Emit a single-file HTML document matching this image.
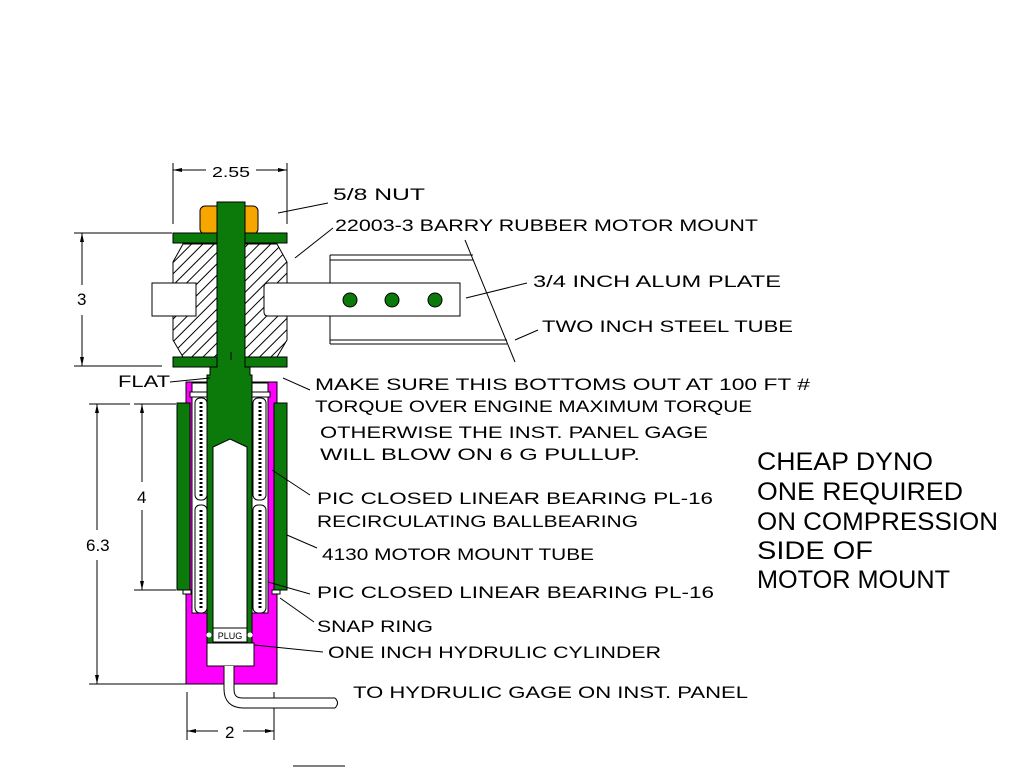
<!DOCTYPE html>
<html><head><meta charset="utf-8"><style>
html,body{margin:0;padding:0;background:#fff;}
svg{display:block}
text{font-family:"Liberation Sans",sans-serif;fill:#000;}
</style></head><body>
<svg width="1024" height="768" viewBox="0 0 1024 768" xmlns="http://www.w3.org/2000/svg">
<defs>
<pattern id="h" width="8" height="8" patternUnits="userSpaceOnUse" patternTransform="rotate(-45)">
<rect width="8" height="8" fill="#fff"/><line x1="0" y1="4" x2="8" y2="4" stroke="#000" stroke-width="1"/>
</pattern>
</defs>
<g stroke="#000" stroke-width="1" fill="none">
<line x1="173" y1="163" x2="173" y2="224"/><line x1="287" y1="163" x2="287" y2="224"/>
<line x1="173" y1="170" x2="206" y2="170"/><line x1="256" y1="170" x2="287" y2="170"/>
<line x1="74" y1="233" x2="172" y2="233"/><line x1="74" y1="366" x2="162" y2="366"/>
<line x1="82" y1="233" x2="82" y2="285"/><line x1="82" y1="315" x2="82" y2="366"/>
<line x1="89" y1="404" x2="130" y2="404"/><line x1="134" y1="404" x2="176" y2="404"/>
<line x1="97" y1="404" x2="97" y2="530"/><line x1="97" y1="560" x2="97" y2="684"/>
<line x1="89" y1="684" x2="188" y2="684"/>
<line x1="142" y1="404" x2="142" y2="482"/><line x1="142" y1="510" x2="142" y2="590"/>
<line x1="134" y1="590" x2="176" y2="590"/>
<line x1="187" y1="692" x2="187" y2="740"/><line x1="274" y1="692" x2="274" y2="740"/>
<line x1="187" y1="731" x2="218" y2="731"/><line x1="243" y1="731" x2="274" y2="731"/>
</g>
<g fill="#000">
<path d="M173 170 l9 -2 v4z M287 170 l-9 -2 v4z M82 233 l-2 9 h4z M82 366 l-2 -9 h4z M97 404 l-2 9 h4z M97 684 l-2 -9 h4z M142 404 l-2 9 h4z M142 590 l-2 -9 h4z M187 731 l9 -2 v4z M274 731 l-9 -2 v4z"/>
</g>
<rect x="200" y="206" width="58" height="28" rx="5" fill="#f7a600" stroke="#000"/>
<path d="M183 244 H277 L287 262 V340 L277 357 H183 L173 340 V262Z" fill="url(#h)" stroke="#000"/>
<path d="M152 283 H196 V316 H152Z" fill="#fff" stroke="#000"/>
<path d="M330 255 H473 M330 260 H473 M330 340 H507 M330 344 H507 M330 255 V283 M330 316 V344" stroke="#000" fill="none"/>
<path d="M268 283 H460 V316 H268 Q264 316 264 312 V287 Q264 283 268 283Z" fill="#fff" stroke="#000"/>
<circle cx="350" cy="300" r="7" fill="#0b7a0b" stroke="#000"/>
<circle cx="392" cy="300" r="7" fill="#0b7a0b" stroke="#000"/>
<circle cx="435" cy="300" r="7" fill="#0b7a0b" stroke="#000"/>
<rect x="173" y="233" width="114" height="10" fill="#0b7a0b" stroke="#000"/>
<rect x="173" y="357" width="114" height="10" fill="#0b7a0b" stroke="#000"/>
<rect x="186" y="382" width="91" height="302" fill="#ff00ff" stroke="#000"/>
<rect x="192" y="383" width="76" height="230" fill="#fff" stroke="#000"/>
<rect x="207" y="643" width="47" height="23" fill="#fff" stroke="#000"/>
<rect x="177" y="403" width="13" height="187" fill="#0b7a0b" stroke="#000"/>
<rect x="274" y="403" width="13" height="187" fill="#0b7a0b" stroke="#000"/>
<rect x="183" y="590" width="8" height="4" fill="#fff" stroke="#000"/>
<rect x="272" y="590" width="8" height="4" fill="#fff" stroke="#000"/>
<rect x="190" y="392" width="80" height="5" fill="#fff" stroke="#000"/>
<g fill="#fff" stroke="#000">
<rect x="195" y="398" width="12" height="102" rx="5"/><rect x="195" y="505" width="12" height="108" rx="5"/>
<rect x="253" y="398" width="13" height="102" rx="5"/><rect x="253" y="505" width="13" height="108" rx="5"/>
</g>
<g stroke="#000" stroke-dasharray="2 2" stroke-width="3">
<line x1="201" y1="402" x2="201" y2="496"/><line x1="201" y1="510" x2="201" y2="608"/>
<line x1="260" y1="402" x2="260" y2="496"/><line x1="260" y1="510" x2="260" y2="608"/>
</g>
<path d="M217 202 H245 V367 H250 V375 H252 V643 H207 V375 H210 V367 H217Z" fill="#0b7a0b" stroke="#000"/>
<line x1="231" y1="352" x2="231" y2="360" stroke="#000"/>
<path d="M213 447 L230 439 L247 447 V630 H213Z" fill="#fff" stroke="#000"/>
<rect x="213" y="628" width="34" height="14" fill="#fff" stroke="#000"/>
<text x="230" y="639" font-size="9" text-anchor="middle">PLUG</text>
<circle cx="209" cy="635" r="2.5" fill="#fff"/><circle cx="250" cy="635" r="2.5" fill="#fff"/>
<!-- pipe -->
<path d="M229 666 V689 Q229 703 243 703 H335" fill="none" stroke="#000" stroke-width="11"/>
<path d="M229 666 V689 Q229 703 243 703 H335" fill="none" stroke="#fff" stroke-width="9"/>
<path d="M335 698 Q340 703 335 708" fill="none" stroke="#000"/>
<g stroke="#000" fill="none">
<line x1="278" y1="213" x2="328" y2="203"/>
<line x1="295" y1="258" x2="333" y2="228"/>
<line x1="466" y1="298" x2="527" y2="283"/>
<line x1="465" y1="240" x2="515" y2="362"/>
<line x1="515" y1="340" x2="538" y2="330"/>
<line x1="170" y1="382" x2="210" y2="378"/>
<line x1="283" y1="378" x2="310" y2="390"/>
<line x1="272" y1="470" x2="310" y2="495"/>
<line x1="287" y1="535" x2="317" y2="548"/>
<line x1="268" y1="582" x2="310" y2="594"/>
<line x1="280" y1="598" x2="314" y2="622"/>
<line x1="254" y1="645" x2="323" y2="652"/>
<line x1="293" y1="766" x2="345" y2="766"/>
</g>
<g font-size="17">
<text x="212" y="177" textLength="38" lengthAdjust="spacingAndGlyphs" font-size="15">2.55</text>
<text x="333" y="200" textLength="92" lengthAdjust="spacingAndGlyphs">5/8 NUT</text>
<text x="335" y="231" textLength="423" lengthAdjust="spacingAndGlyphs">22003-3 BARRY RUBBER MOTOR MOUNT</text>
<text x="533" y="287" textLength="248" lengthAdjust="spacingAndGlyphs">3/4 INCH ALUM PLATE</text>
<text x="542" y="332" textLength="251" lengthAdjust="spacingAndGlyphs">TWO INCH STEEL TUBE</text>
<text x="118" y="387" textLength="52" lengthAdjust="spacingAndGlyphs">FLAT</text>
<text x="315" y="390" textLength="495" lengthAdjust="spacingAndGlyphs">MAKE SURE THIS BOTTOMS OUT AT 100 FT #</text>
<text x="315" y="412" textLength="437" lengthAdjust="spacingAndGlyphs">TORQUE OVER ENGINE MAXIMUM TORQUE</text>
<text x="320" y="438" textLength="388" lengthAdjust="spacingAndGlyphs">OTHERWISE THE INST. PANEL GAGE</text>
<text x="320" y="460" textLength="320" lengthAdjust="spacingAndGlyphs">WILL BLOW ON 6 G PULLUP.</text>
<text x="317" y="504" textLength="396" lengthAdjust="spacingAndGlyphs">PIC CLOSED LINEAR BEARING PL-16</text>
<text x="317" y="527" textLength="321" lengthAdjust="spacingAndGlyphs">RECIRCULATING BALLBEARING</text>
<text x="322" y="560" textLength="272" lengthAdjust="spacingAndGlyphs">4130 MOTOR MOUNT TUBE</text>
<text x="317" y="598" textLength="397" lengthAdjust="spacingAndGlyphs">PIC CLOSED LINEAR BEARING PL-16</text>
<text x="317" y="632" textLength="116" lengthAdjust="spacingAndGlyphs">SNAP RING</text>
<text x="328" y="658" textLength="333" lengthAdjust="spacingAndGlyphs">ONE INCH HYDRULIC CYLINDER</text>
<text x="353" y="698" textLength="395" lengthAdjust="spacingAndGlyphs">TO HYDRULIC GAGE ON INST. PANEL</text>
<text x="77" y="305">3</text>
<text x="86" y="551">6.3</text>
<text x="137" y="503">4</text>
<text x="225" y="738">2</text>
</g>
<g font-size="25">
<text x="757" y="470" textLength="176" lengthAdjust="spacingAndGlyphs">CHEAP DYNO</text>
<text x="757" y="500" textLength="206" lengthAdjust="spacingAndGlyphs">ONE REQUIRED</text>
<text x="757" y="530" textLength="241" lengthAdjust="spacingAndGlyphs">ON COMPRESSION</text>
<text x="757" y="559" textLength="116" lengthAdjust="spacingAndGlyphs">SIDE OF</text>
<text x="757" y="588" textLength="193" lengthAdjust="spacingAndGlyphs">MOTOR MOUNT</text>
</g>
</svg>
</body></html>
